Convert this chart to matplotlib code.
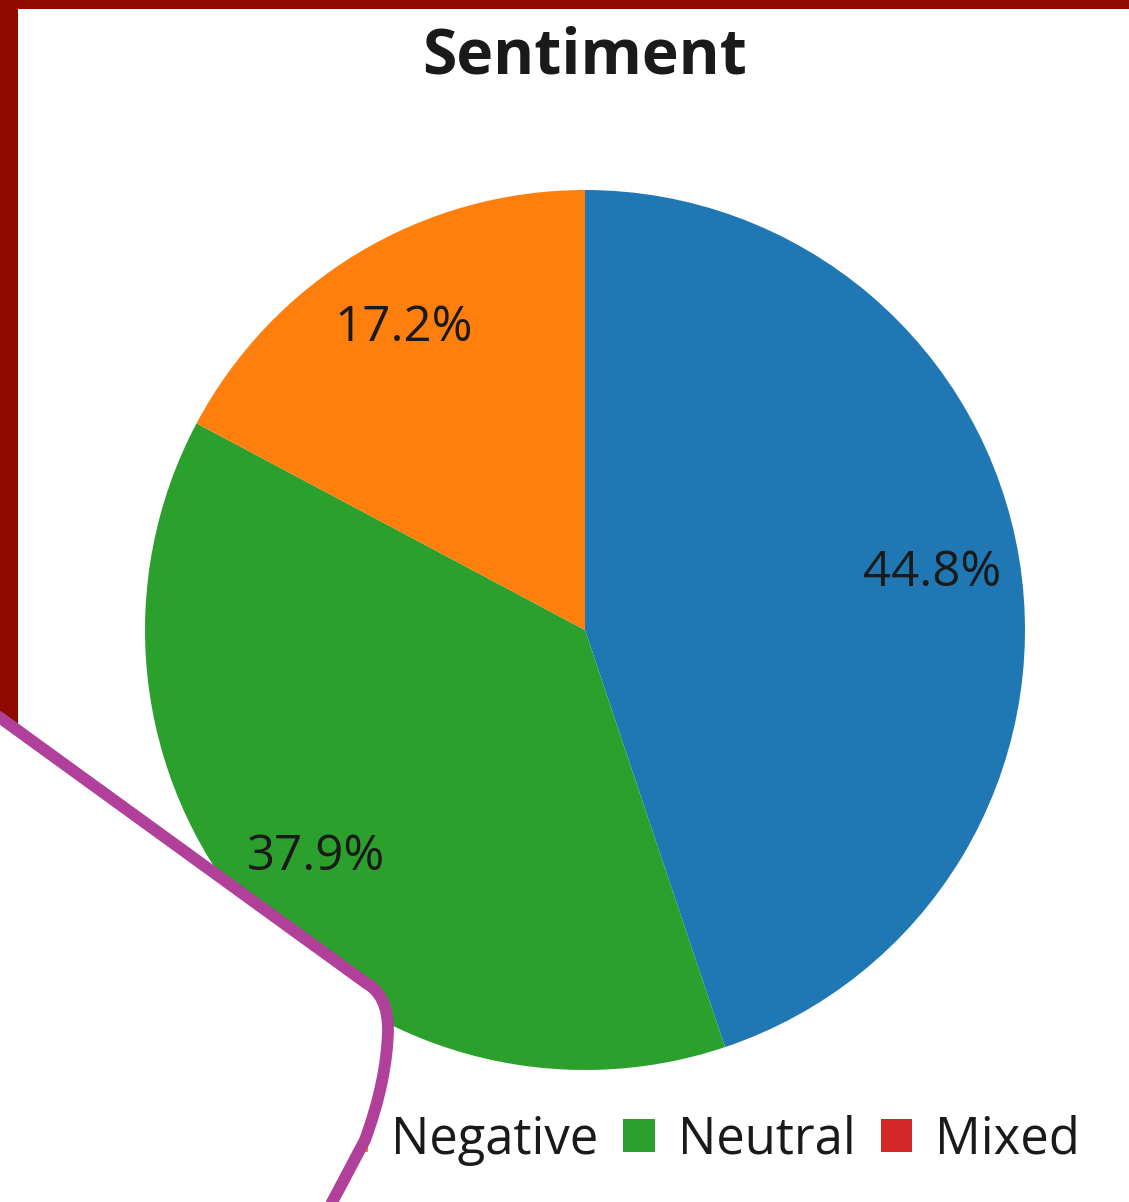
import matplotlib.pyplot as plt
from matplotlib.patches import Patch, Rectangle, PathPatch, Polygon
from matplotlib.path import Path

# Data
labels = ['Positive', 'Negative', 'Neutral', 'Mixed']
values = [44.8, 17.2, 37.9, 0.0]
colors = ['#1f77b4', '#ff7f0e', '#2ca02c', '#d62728']
pie_order = [0, 2, 1]  # clockwise from top: Positive, Neutral, Negative

plt.rcParams['font.family'] = ['Open Sans', 'DejaVu Sans']

W, H = 1129, 1202
fig = plt.figure(figsize=(W / 100, H / 100), dpi=100)
fig.patch.set_facecolor('white')

# pie axes: center (585, 630) px, radius 440 px
cx, cy, r = 585, 630, 440
ax = fig.add_axes([(cx - r) / W, (H - cy - r) / H, 2 * r / W, 2 * r / H])
wedges, texts, autotexts = ax.pie(
    [values[i] for i in pie_order],
    colors=[colors[i] for i in pie_order],
    startangle=90, counterclock=False,
    autopct='%1.1f%%', pctdistance=0.8,
    wedgeprops=dict(edgecolor='none', linewidth=0),
    textprops=dict(fontsize=35.5, color='#1a1a1a'))
ax.set_xlim(-1, 1)
ax.set_ylim(-1, 1)

fig.text(cx / W, 1 - 57 / H, 'Sentiment', ha='center', va='center',
         fontsize=45, fontweight='bold', color='#1a1a1a')

handles = [Patch(facecolor=c, edgecolor='none') for c in colors]
fig.legend(handles, labels, ncol=4, loc='center', bbox_to_anchor=(577 / W, 1 - 1140 / H),
           frameon=False, fontsize=36.5, handlelength=0.62, handleheight=0.62,
           handletextpad=0.45, columnspacing=0.5, labelcolor='#1a1a1a')

# overlay: border and hand-drawn annotation
ov = fig.add_axes([0, 0, 1, 1], zorder=10)
ov.set_xlim(0, W)
ov.set_ylim(H, 0)
ov.axis('off')
ov.patch.set_alpha(0)

ov.add_patch(Rectangle((0, 0), W, 9, facecolor='#900a00', edgecolor='none'))
ov.add_patch(Rectangle((0, 0), 18, 735, facecolor='#900a00', edgecolor='none'))

verts = [(-5, 714), (366, 983), (388, 995), (388, 1030),
         (387, 1080), (365, 1140), (328, 1210)]
codes = [Path.MOVETO, Path.LINETO, Path.CURVE3, Path.CURVE3,
         Path.CURVE3, Path.CURVE3, Path.LINETO]
ov.add_patch(Polygon([(-5, 714), (366, 983), (384, 1000), (388, 1030), (380, 1100),
                      (360, 1150), (328, 1210), (-5, 1210)],
                     closed=True, facecolor='white', edgecolor='none'))
ov.add_patch(PathPatch(Path(verts, codes), facecolor='none', edgecolor='#b0409a',
                       linewidth=8.5, capstyle='round', joinstyle='round'))

fig.savefig('out.png', dpi=100, facecolor='white')
